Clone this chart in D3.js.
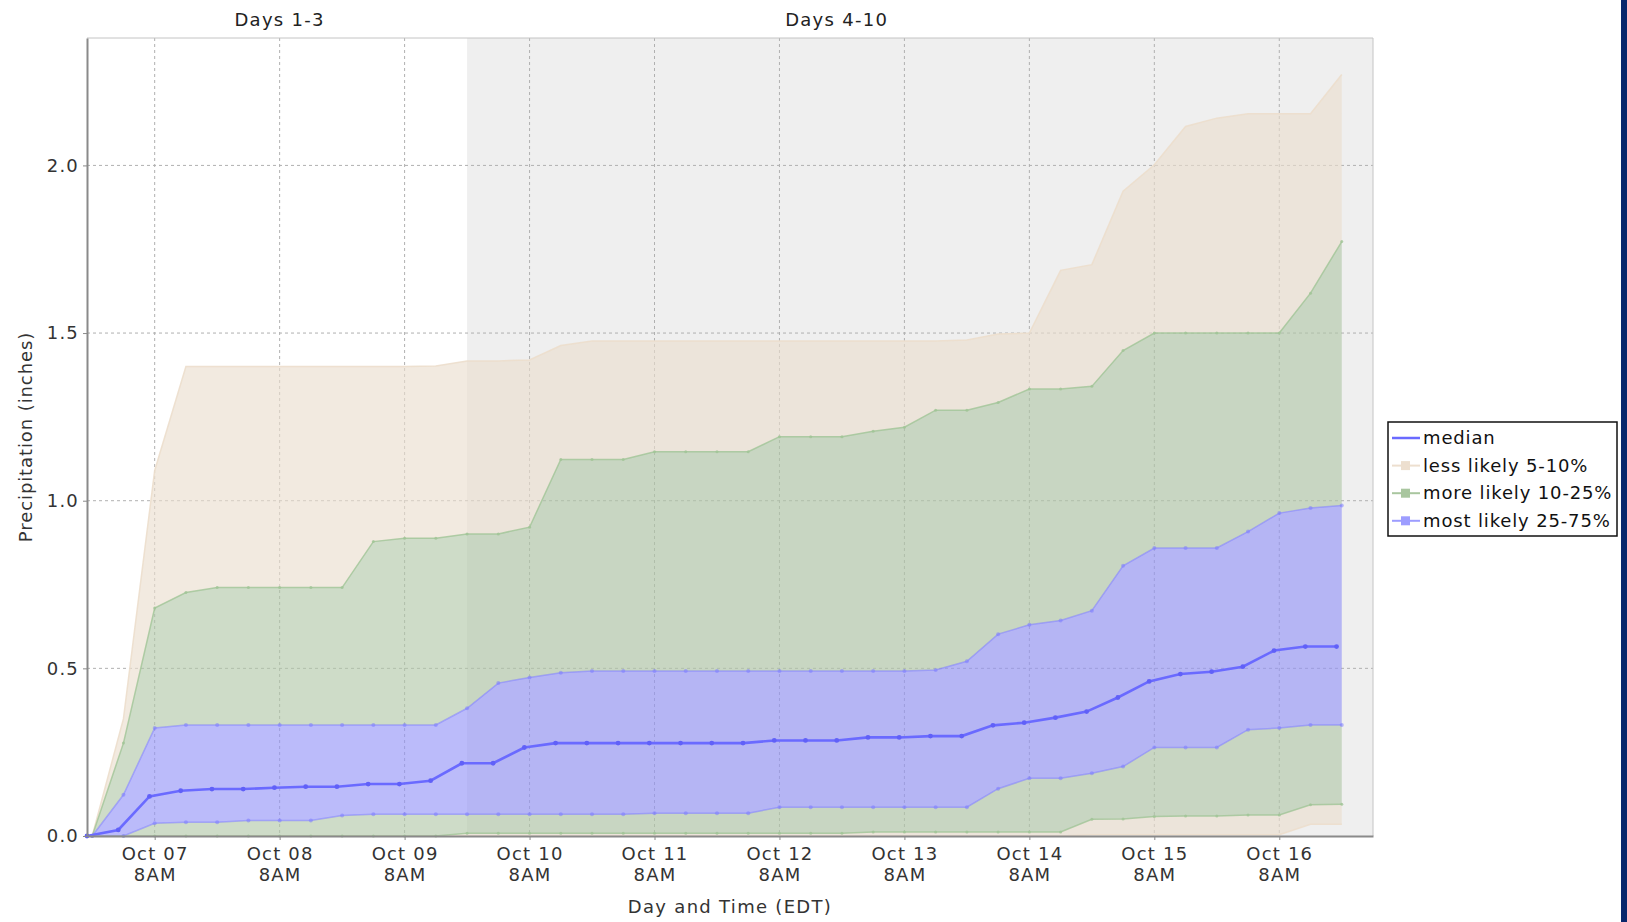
<!DOCTYPE html>
<html>
<head>
<meta charset="utf-8">
<script src="https://cdn.jsdelivr.net/npm/d3@7"></script>
<style>
  html, body { margin: 0; padding: 0; background: #fff; }
  svg { display: block; font-family: "DejaVu Sans", sans-serif; }
</style>
</head>
<body>
<div id="chart"></div>
<script>
// 6-hourly ensemble precipitation percentiles (inches), first point Oct 06 8PM EDT
const p95 = [0, 0.35, 1.09, 1.40, 1.40, 1.40, 1.40, 1.40, 1.40, 1.40, 1.40, 1.402, 1.417, 1.417, 1.42, 1.463,
  1.476, 1.476, 1.476, 1.476, 1.476, 1.476, 1.476, 1.476, 1.476, 1.476, 1.476, 1.476, 1.479, 1.497,
  1.50, 1.687, 1.704, 1.923, 2.002, 2.116, 2.141, 2.154, 2.154, 2.154, 2.271];
const p90 = [0, 0.277, 0.68, 0.726, 0.741, 0.741, 0.741, 0.741, 0.741, 0.878, 0.888, 0.888, 0.901, 0.901, 0.921, 1.123,
  1.123, 1.123, 1.146, 1.146, 1.146, 1.146, 1.191, 1.191, 1.191, 1.207, 1.219, 1.27, 1.27, 1.293,
  1.333, 1.333, 1.341, 1.448, 1.50, 1.50, 1.50, 1.50, 1.50, 1.619, 1.773];
const p75 = [0, 0.123, 0.322, 0.331, 0.331, 0.331, 0.331, 0.331, 0.331, 0.331, 0.331, 0.331, 0.381, 0.456, 0.473, 0.487,
  0.492, 0.492, 0.492, 0.492, 0.492, 0.492, 0.492, 0.492, 0.492, 0.492, 0.492, 0.495, 0.521, 0.602,
  0.63, 0.643, 0.672, 0.806, 0.859, 0.859, 0.859, 0.908, 0.963, 0.978, 0.986];
const p25 = [0, 0, 0.038, 0.041, 0.041, 0.046, 0.046, 0.046, 0.061, 0.065, 0.065, 0.065, 0.065, 0.065, 0.065, 0.065,
  0.065, 0.065, 0.068, 0.068, 0.068, 0.068, 0.086, 0.086, 0.086, 0.086, 0.086, 0.086, 0.086, 0.141,
  0.172, 0.172, 0.187, 0.207, 0.264, 0.264, 0.264, 0.317, 0.322, 0.331, 0.331];
const p10 = [0, 0, 0, 0, 0, 0, 0, 0, 0, 0, 0, 0, 0.008, 0.008, 0.008, 0.008,
  0.008, 0.008, 0.008, 0.008, 0.008, 0.008, 0.008, 0.008, 0.008, 0.012, 0.012, 0.012, 0.012, 0.012,
  0.012, 0.012, 0.05, 0.051, 0.058, 0.06, 0.06, 0.063, 0.063, 0.093, 0.095];
const p5 = [0, 0, 0, 0, 0, 0, 0, 0, 0, 0, 0, 0, 0, 0, 0, 0,
  0, 0, 0, 0, 0, 0, 0, 0, 0, 0, 0, 0, 0, 0,
  0, 0, 0.004, 0.004, 0.004, 0.004, 0.004, 0.004, 0.004, 0.035, 0.035];
const median = [0, 0.018, 0.118, 0.135, 0.14, 0.14, 0.144, 0.147, 0.147, 0.155, 0.155, 0.165, 0.217, 0.217, 0.264, 0.277,
  0.277, 0.277, 0.277, 0.277, 0.277, 0.277, 0.285, 0.285, 0.285, 0.294, 0.294, 0.298, 0.298, 0.33,
  0.338, 0.353, 0.371, 0.413, 0.461, 0.483, 0.49, 0.505, 0.553, 0.565, 0.565];

const yTicks = [0, 0.5, 1.0, 1.5, 2.0];
const dayTitles = ["Days 1-3", "Days 4-10"];
const legendLabels = ["median", "less likely 5-10%", "more likely 10-25%", "most likely 25-75%"];

// times are EDT wall clock, kept as UTC so the browser zone does not matter
const firstTime = Date.UTC(2024, 9, 6, 20);
const times = p95.map((d, i) => d3.utcHour.offset(firstTime, 6 * i));
const medianTimes = times.map(t => d3.utcHour.offset(t, -1));
const tickTimes = d3.range(7, 17).map(d => new Date(Date.UTC(2024, 9, d, 8)));
const shadeStart = new Date(Date.UTC(2024, 9, 9, 20));
const titleTimes = [new Date(Date.UTC(2024, 9, 8, 8)), new Date(Date.UTC(2024, 9, 12, 19))];

const W = 1627, H = 922;
const plot = {left: 87, right: 1373, top: 38, bottom: 836};
const LS = "1.2px";

let svg = d3.select("#chart").append("svg")
    .attr("width", W)
    .attr("height", H);

let xScale = d3.scaleUtc()
    .domain([new Date(Date.UTC(2024, 9, 6, 19)), new Date(Date.UTC(2024, 9, 17, 2))])
    .range([plot.left, plot.right]);
let yScale = d3.scaleLinear()
    .domain([0, 2.38])
    .range([plot.bottom, plot.top]);

// background + days 4-10 shading
svg.append("rect")
    .attr("x", plot.left).attr("y", plot.top)
    .attr("width", plot.right - plot.left).attr("height", plot.bottom - plot.top)
    .attr("fill", "#ffffff");
svg.append("rect")
    .attr("x", xScale(shadeStart)).attr("y", plot.top)
    .attr("width", plot.right - xScale(shadeStart)).attr("height", plot.bottom - plot.top)
    .attr("fill", "#efefef");

// gridlines
svg.append("g").selectAll("line")
    .data(yTicks.filter(d => d > 0))
    .join("line")
    .attr("x1", plot.left).attr("x2", plot.right)
    .attr("y1", d => yScale(d)).attr("y2", d => yScale(d))
    .attr("stroke", "#b0b0b0").attr("stroke-dasharray", "3,3");
svg.append("g").selectAll("line")
    .data(tickTimes)
    .join("line")
    .attr("x1", d => xScale(d)).attr("x2", d => xScale(d))
    .attr("y1", plot.top).attr("y2", plot.bottom)
    .attr("stroke", "#b0b0b0").attr("stroke-dasharray", "3,3");

// bands (non-overlapping pieces)
let idx = d3.range(times.length);
let band = (lo, hi) => d3.area()
    .x(i => xScale(times[i]))
    .y0(i => yScale(lo[i]))
    .y1(i => yScale(hi[i]))(idx);

const tanFill = "#eaddcd", greenFill = "#b1c7a7", blueFill = "#9292f7";
[[p5, p10, tanFill], [p90, p95, tanFill], [p10, p25, greenFill], [p75, p90, greenFill], [p25, p75, blueFill]]
    .forEach(([lo, hi, c]) => {
        svg.append("path")
            .attr("d", band(lo, hi))
            .attr("fill", c)
            .attr("fill-opacity", 0.625);
    });

// band edges
let edge = (vals, color, width, dotR) => {
    svg.append("path")
        .attr("d", d3.line().x(i => xScale(times[i])).y(i => yScale(vals[i]))(idx))
        .attr("fill", "none")
        .attr("stroke", color)
        .attr("stroke-width", width);
    svg.append("g").selectAll("circle")
        .data(idx)
        .join("circle")
        .attr("cx", i => xScale(times[i]))
        .attr("cy", i => yScale(vals[i]))
        .attr("r", dotR)
        .attr("fill", color);
};
edge(p95, "rgba(236,222,204,0.9)", 1.5, 0);
edge(p5, "rgba(236,222,204,0.9)", 1.5, 0);
edge(p90, "rgba(160,196,150,0.8)", 1.5, 1.5);
edge(p10, "rgba(160,196,150,0.8)", 1.5, 1.5);
edge(p75, "rgba(125,125,255,0.55)", 1.5, 2);
edge(p25, "rgba(125,125,255,0.55)", 1.5, 2);

// median
svg.append("path")
    .attr("d", d3.line().x(i => xScale(medianTimes[i])).y(i => yScale(median[i]))(idx))
    .attr("fill", "none")
    .attr("stroke", "#6a6aff")
    .attr("stroke-width", 2.6);
svg.append("g").selectAll("circle")
    .data(idx)
    .join("circle")
    .attr("cx", i => xScale(medianTimes[i]))
    .attr("cy", i => yScale(median[i]))
    .attr("r", 2.4)
    .attr("fill", "#6060f8");

// frame
svg.append("line").attr("x1", plot.left).attr("x2", plot.right).attr("y1", plot.top).attr("y2", plot.top)
    .attr("stroke", "#c4c4c4");
svg.append("line").attr("x1", plot.right).attr("x2", plot.right).attr("y1", plot.top).attr("y2", plot.bottom)
    .attr("stroke", "#c4c4c4");

// axes
let yAxis = svg.append("g")
    .attr("transform", "translate(" + plot.left + ",0)")
    .call(d3.axisLeft(yScale).tickValues(yTicks).tickFormat(d3.format(".1f"))
        .tickSize(4).tickSizeOuter(0).tickPadding(4));
let xAxis = svg.append("g")
    .attr("transform", "translate(0," + plot.bottom + ")")
    .call(d3.axisBottom(xScale).tickValues(tickTimes).tickFormat(d3.utcFormat("%b %d"))
        .tickSize(4).tickSizeOuter(0).tickPadding(7));
[yAxis, xAxis].forEach(a => {
    a.select(".domain").attr("stroke", "#8a8a8a").attr("stroke-width", 2);
    a.selectAll(".tick line").attr("stroke", "#8a8a8a");
    a.selectAll("text").attr("fill", "#333")
        .style("font-size", "18px").style("font-family", "DejaVu Sans").style("letter-spacing", LS);
});
xAxis.selectAll(".tick text")
    .append("tspan")
    .attr("x", 0).attr("dy", "1.2em")
    .text(d => d3.utcFormat("%-I%p")(d));
xAxis.selectAll(".tick text").each(function (d) {
    let t = d3.select(this);
    let first = t.node().firstChild;
    if (first && first.nodeType === 3) {
        let txt = first.nodeValue;
        first.nodeValue = "";
        t.insert("tspan", "tspan").attr("x", 0).text(txt);
    }
});

// axis titles
svg.append("text")
    .attr("x", (plot.left + plot.right) / 2)
    .attr("y", 913)
    .attr("text-anchor", "middle")
    .attr("fill", "#333")
    .style("font-size", "18px").style("letter-spacing", "1.3px")
    .text("Day and Time (EDT)");
svg.append("text")
    .attr("transform", "translate(32," + (plot.top + plot.bottom) / 2 + ") rotate(-90)")
    .attr("text-anchor", "middle")
    .attr("fill", "#333")
    .style("font-size", "18px").style("letter-spacing", "0.9px")
    .text("Precipitation (inches)");

// period titles
svg.append("g").selectAll("text")
    .data(dayTitles)
    .join("text")
    .attr("x", (d, i) => xScale(titleTimes[i]))
    .attr("y", 26)
    .attr("text-anchor", "middle")
    .attr("fill", "#222")
    .style("font-size", "18px").style("letter-spacing", "1.3px")
    .text(d => d);

// legend
let lg = svg.append("g").attr("transform", "translate(1388,422)");
lg.append("rect")
    .attr("width", 229).attr("height", 114)
    .attr("fill", "#fff").attr("stroke", "#111").attr("stroke-width", 1.5);
const legendColors = ["#6a6aff", "#eddfcf", "#a9c69f", "#9d9dff"];
let items = lg.selectAll("g.item")
    .data(legendLabels)
    .join("g")
    .attr("class", "item")
    .attr("transform", (d, i) => "translate(0," + (16 + i * 27.6) + ")");
items.append("line")
    .attr("x1", 4).attr("x2", 32).attr("y1", 0).attr("y2", 0)
    .attr("stroke", (d, i) => legendColors[i])
    .attr("stroke-width", (d, i) => i === 0 ? 2.5 : 2);
items.filter((d, i) => i > 0).append("rect")
    .attr("x", 13).attr("y", -4.5).attr("width", 9).attr("height", 9)
    .attr("fill", (d, i) => legendColors[i + 1]);
items.append("text")
    .attr("x", 35).attr("y", 6)
    .attr("fill", "#111")
    .style("font-size", "18px").style("letter-spacing", "0.85px")
    .text(d => d);

// right edge strip
svg.append("rect")
    .attr("x", 1621).attr("y", 0).attr("width", 6).attr("height", H)
    .attr("fill", "#08266b");
</script>
</body>
</html>
